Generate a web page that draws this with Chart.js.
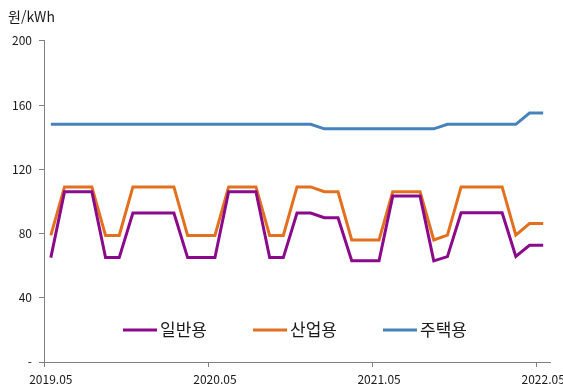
<!DOCTYPE html>
<html lang="ko">
<head>
  <meta charset="UTF-8">
  <title>용도별 전력 판매단가</title>
  <script src="https://cdn.jsdelivr.net/npm/chart.js"></script>
  <style>
    html, body { margin: 0; padding: 0; background: #ffffff; }
    #wrap { width: 563px; height: 385px; position: relative; }
  </style>
</head>
<body>
  <div id="wrap"><canvas id="myChart"></canvas></div>

  <script>
    // 월별 (2019.05 ~ 2022.05)
    const months = [
      '2019.05', '2019.06', '2019.07', '2019.08', '2019.09', '2019.10', '2019.11', '2019.12',
      '2020.01', '2020.02', '2020.03', '2020.04', '2020.05', '2020.06', '2020.07', '2020.08',
      '2020.09', '2020.10', '2020.11', '2020.12', '2021.01', '2021.02', '2021.03', '2021.04',
      '2021.05', '2021.06', '2021.07', '2021.08', '2021.09', '2021.10', '2021.11', '2021.12',
      '2022.01', '2022.02', '2022.03', '2022.04', '2022.05'
    ];
    const 일반용 = [
      65, 106, 106, 106, 65, 65, 92.7, 92.7, 92.7, 92.7, 65, 65,
      65, 106, 106, 106, 65, 65, 92.7, 92.7, 89.8, 89.8, 63, 63,
      63, 103.3, 103.3, 103.3, 63, 65.6, 92.9, 92.9, 92.9, 92.9, 65.8, 72.7,
      72.7
    ];
    const 산업용 = [
      78.8, 109, 109, 109, 78.8, 78.8, 109, 109, 109, 109, 78.8, 78.8,
      78.8, 109, 109, 109, 78.8, 78.8, 109, 109, 106, 106, 76, 76,
      76, 106, 106, 106, 76, 79, 109, 109, 109, 109, 79, 86.2,
      86.2
    ];
    const 주택용 = [
      148, 148, 148, 148, 148, 148, 148, 148, 148, 148, 148, 148,
      148, 148, 148, 148, 148, 148, 148, 148, 145.2, 145.2, 145.2, 145.2,
      145.2, 145.2, 145.2, 145.2, 145.2, 148, 148, 148, 148, 148, 148, 155,
      155
    ];
    const yTicks = [0, 40, 80, 120, 160, 200];

    const FONT = '"Noto Sans CJK KR", "Noto Sans", sans-serif';

    // 범례를 그림 영역 안쪽 아래에 그림
    const innerLegend = {
      id: 'innerLegend',
      afterDraw(chart) {
        const ctx = chart.ctx;
        const y = 330;
        const starts = [123, 253, 383];
        ctx.save();
        ctx.font = '17px ' + FONT;
        ctx.textBaseline = 'middle';
        ctx.textAlign = 'left';
        chart.data.datasets.forEach((ds, i) => {
          const x = starts[i];
          ctx.strokeStyle = ds.borderColor;
          ctx.lineWidth = 3;
          ctx.beginPath();
          ctx.moveTo(x, y);
          ctx.lineTo(x + 34, y);
          ctx.stroke();
          ctx.fillStyle = '#1a1a1a';
          ctx.fillText(ds.label, x + 37, y);
        });
        ctx.restore();
      }
    };

    const ctx = document.getElementById('myChart').getContext('2d');
    new Chart(ctx, {
      type: 'line',
      data: {
        labels: months,
        datasets: [
          { label: '일반용', data: 일반용, borderColor: '#8B0A8B' },
          { label: '산업용', data: 산업용, borderColor: '#E2701F' },
          { label: '주택용', data: 주택용, borderColor: '#4683BC' }
        ]
      },
      options: {
        responsive: true,
        maintainAspectRatio: false,
        animation: false,
        elements: {
          line: { borderWidth: 3, tension: 0 },
          point: { radius: 0 }
        },
        layout: { padding: { left: 8, right: 13, top: 0, bottom: 0 } },
        plugins: {
          legend: { display: false },
          tooltip: { enabled: false },
          title: {
            display: true,
            text: '원/kWh',
            align: 'start',
            color: '#1a1a1a',
            font: { family: FONT, size: 14, weight: 'normal' },
            padding: { top: 8, bottom: 16 }
          }
        },
        scales: {
          x: {
            offset: true,
            grid: {
              offset: true,
              drawOnChartArea: false,
              tickLength: 5,
              tickColor: (c) => (c.index !== undefined && c.index % 12 === 0) ? '#808080' : 'transparent'
            },
            border: { color: '#808080', width: 1 },
            ticks: {
              autoSkip: false,
              maxRotation: 0,
              padding: 5,
              color: '#1a1a1a',
              font: { family: FONT, size: 12 },
              callback: function (v, i) { return i % 12 === 0 ? months[i] : ''; }
            },
            afterFit: (axis) => { axis.height = 23; axis.paddingLeft = 0; axis.paddingRight = 0; }
          },
          y: {
            min: 0,
            max: 200,
            afterBuildTicks: (axis) => { axis.ticks = yTicks.map(v => ({ value: v })); },
            grid: { drawOnChartArea: false, tickLength: 5, tickColor: '#808080' },
            border: { color: '#808080', width: 1 },
            ticks: {
              padding: 7,
              color: '#1a1a1a',
              font: { family: FONT, size: 12 },
              callback: (v) => v === 0 ? '-' : v
            },
            afterFit: (axis) => { axis.width = 36; }
          }
        }
      },
      plugins: [innerLegend]
    });
  </script>
</body>
</html>
